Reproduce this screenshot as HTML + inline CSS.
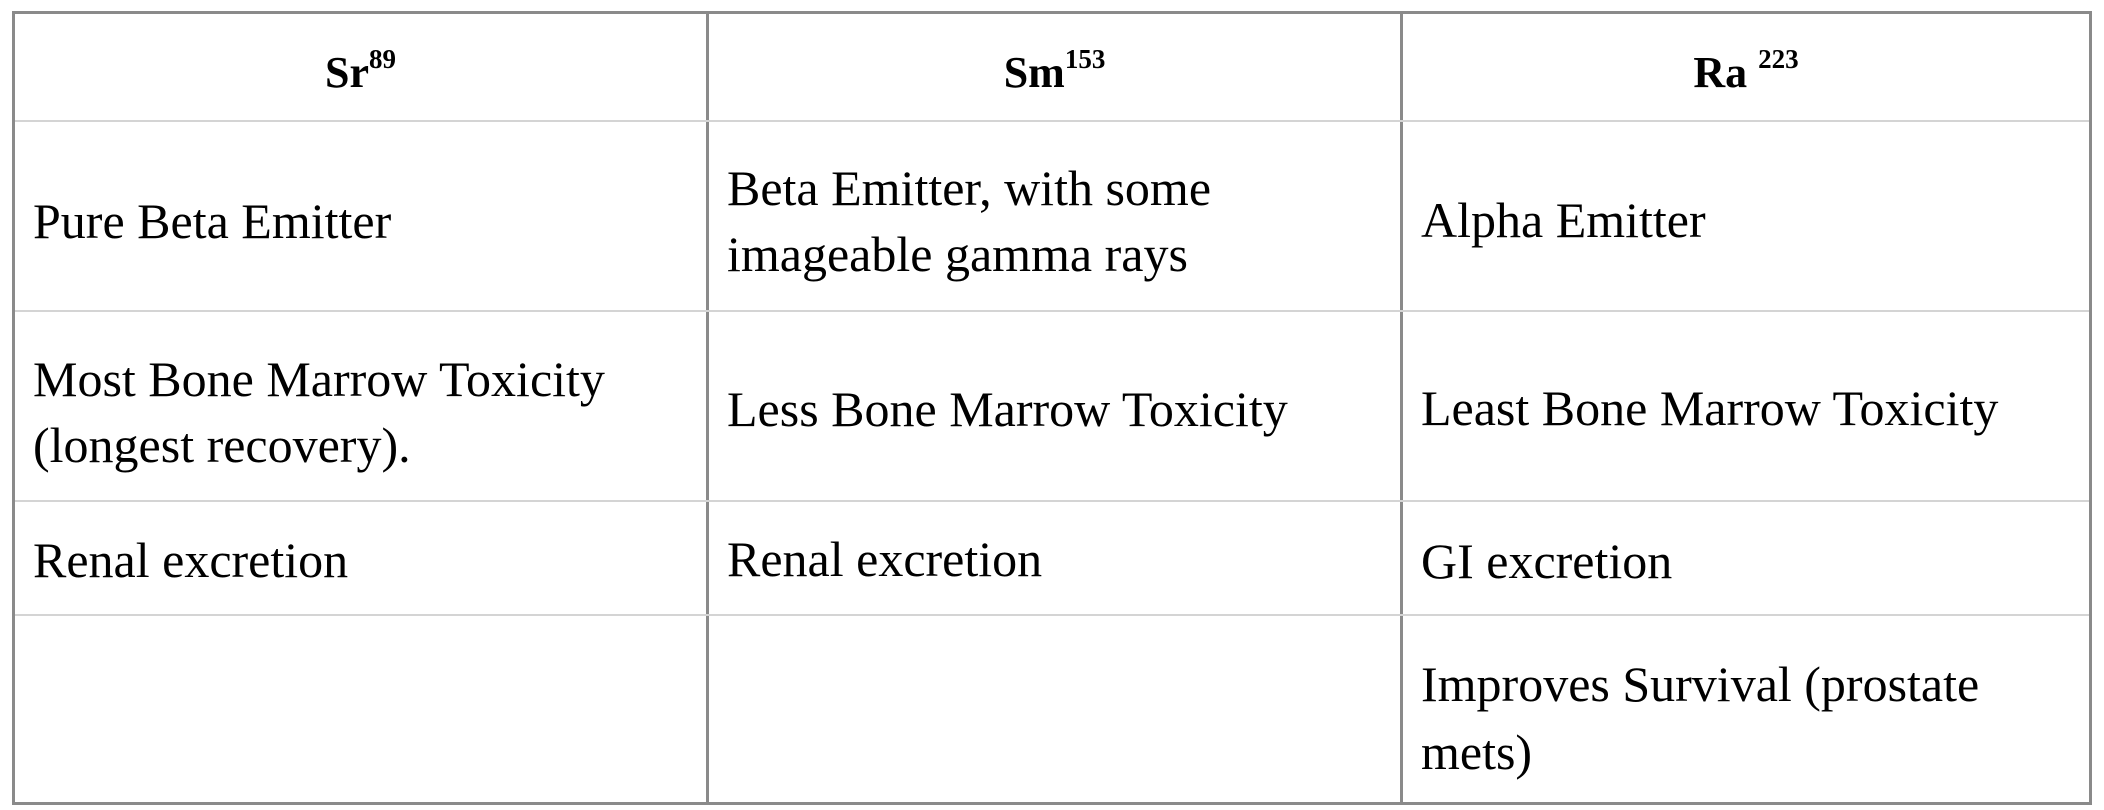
<!DOCTYPE html>
<html><head><meta charset="utf-8"><style>
html,body{margin:0;padding:0;background:#fff;width:2104px;height:810px;overflow:hidden;position:relative;font-family:"Liberation Serif",serif;color:#000}
.b{position:absolute;background:#8a8a8a}
.r{position:absolute;background:#d4d4d4;height:2px}
.t{position:absolute;font-size:50px;line-height:50px;white-space:nowrap}
.h{position:absolute;font-size:44px;line-height:44px;font-weight:bold;white-space:nowrap;text-align:center}
.h sup{font-size:27px;vertical-align:0;position:relative;top:-19px}
</style></head><body>
<div>
<div class="b" style="left:12px;top:11px;width:2080px;height:3px"></div>
<div class="b" style="left:12px;top:802px;width:2080px;height:3px"></div>
<div class="b" style="left:12px;top:11px;width:3px;height:794px"></div>
<div class="b" style="left:2089px;top:11px;width:3px;height:794px"></div>
<div class="b" style="left:706px;top:11px;width:3px;height:794px"></div>
<div class="b" style="left:1400px;top:11px;width:3px;height:794px"></div>
<div class="r" style="left:15px;top:120px;width:2074px"></div>
<div class="r" style="left:15px;top:310px;width:2074px"></div>
<div class="r" style="left:15px;top:500px;width:2074px"></div>
<div class="r" style="left:15px;top:614px;width:2074px"></div>

<div class="h" style="left:15px;width:691px;top:51px">Sr<sup>89</sup></div>
<div class="h" style="left:709px;width:691px;top:51px">Sm<sup>153</sup></div>
<div class="h" style="left:1403px;width:686px;top:51px">Ra <sup>223</sup></div>

<div class="t" style="left:33px;top:196px">Pure Beta Emitter</div>
<div class="t" style="left:33px;top:354px">Most Bone Marrow Toxicity</div>
<div class="t" style="left:33px;top:420px">(longest recovery).</div>
<div class="t" style="left:33px;top:535px">Renal excretion</div>

<div class="t" style="left:727px;top:163px">Beta Emitter, with some</div>
<div class="t" style="left:727px;top:229px">imageable gamma rays</div>
<div class="t" style="left:727px;top:384px">Less Bone Marrow Toxicity</div>
<div class="t" style="left:727px;top:534px">Renal excretion</div>

<div class="t" style="left:1421px;top:195px">Alpha Emitter</div>
<div class="t" style="left:1421px;top:383px">Least Bone Marrow Toxicity</div>
<div class="t" style="left:1421px;top:536px">GI excretion</div>
<div class="t" style="left:1421px;top:659px">Improves Survival (prostate</div>
<div class="t" style="left:1421px;top:727px">mets)</div>
</div>
</body></html>
